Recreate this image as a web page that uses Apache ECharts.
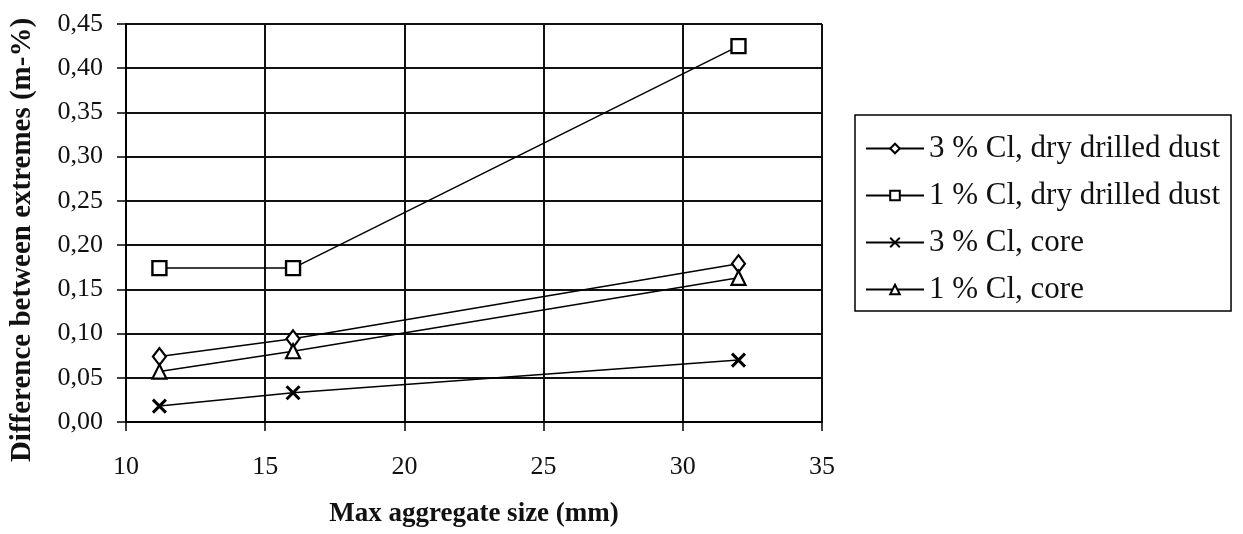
<!DOCTYPE html>
<html>
<head>
<meta charset="utf-8">
<script src="https://cdn.jsdelivr.net/npm/echarts@6/dist/echarts.min.js"></script>
<style>
html,body{margin:0;padding:0;background:#fff;}
#c{width:1243px;height:534px;}
</style>
</head>
<body>
<div id="c"></div>
<script>
var xValues = [11.2, 16, 32];
var dust3 = [0.074, 0.094, 0.179];
var dust1 = [0.174, 0.174, 0.425];
var core3 = [0.018, 0.033, 0.070];
var core1 = [0.057, 0.080, 0.163];
var seriesNames = ['3 % Cl, dry drilled dust', '1 % Cl, dry drilled dust', '3 % Cl, core', '1 % Cl, core'];
var xTitle = 'Max aggregate size (mm)';
var yTitle = 'Difference between extremes (m-%)';

function pairs(ys){ return xValues.map(function(x,i){ return [x, ys[i]]; }); }

var FONT = '"Liberation Serif", "Times New Roman", serif';
var crossPath = 'path://M0,0L10,10M10,0L0,10';

function mkSeries(name, ys, symbol, size, bw){
  return {
    name: name, type: 'line', data: pairs(ys),
    symbol: symbol, symbolSize: size,
    showAllSymbol: true,
    lineStyle: {color: '#000', width: 1.5},
    itemStyle: {color: '#fff', borderColor: '#000', borderWidth: bw},
    emphasis: {disabled: true},
    animation: false, z: 3
  };
}

var chart = echarts.init(document.getElementById('c'), null, {renderer: 'canvas'});
chart.setOption({
  backgroundColor: '#fff',
  animation: false,
  grid: {left: 125, right: 421, top: 24, bottom: 112, containLabel: false},
  legend: {
    orient: 'vertical', left: 855, top: 115,
    data: seriesNames,
    itemWidth: 58, itemHeight: 12, itemGap: 16,
    padding: [18, 11, 6, 10],
    borderColor: '#000', borderWidth: 1.5, backgroundColor: '#fff',
    textStyle: {fontFamily: FONT, fontSize: 31, color: '#111'},
    selectedMode: false
  },
  xAxis: {
    type: 'value', min: 10, max: 35, interval: 5,
    name: xTitle, nameLocation: 'middle', nameGap: 79,
    nameTextStyle: {fontFamily: FONT, fontSize: 27, fontWeight: 'bold', color: '#111'},
    axisLine: {show: true, lineStyle: {color: '#000', width: 2}},
    axisTick: {show: true, inside: false, length: 9, lineStyle: {color: '#000', width: 1.5}},
    axisLabel: {fontFamily: FONT, fontSize: 26, color: '#111', margin: 32},
    splitLine: {show: true, lineStyle: {color: '#111', width: 2}}
  },
  yAxis: {
    type: 'value', min: 0, max: 0.45, interval: 0.05,
    name: yTitle, nameLocation: 'middle', nameGap: 89,
    nameTextStyle: {fontFamily: FONT, fontSize: 29, fontWeight: 'bold', color: '#111', padding: [0, 34, 0, 0]},
    axisLine: {show: true, lineStyle: {color: '#000', width: 2}},
    axisTick: {show: true, inside: false, length: 9, lineStyle: {color: '#000', width: 1.5}},
    axisLabel: {fontFamily: FONT, fontSize: 26, color: '#111', margin: 23,
      formatter: function(v){ return v.toFixed(2).replace('.', ','); }},
    splitLine: {show: true, lineStyle: {color: '#111', width: 2}}
  },
  series: [
    mkSeries(seriesNames[0], dust3, 'diamond', [13, 17], 2.2),
    mkSeries(seriesNames[1], dust1, 'rect', 14, 2.4),
    mkSeries(seriesNames[2], core3, crossPath, 13, 3),
    mkSeries(seriesNames[3], core1, 'triangle', 14, 2.2)
  ]
});
</script>
</body>
</html>
